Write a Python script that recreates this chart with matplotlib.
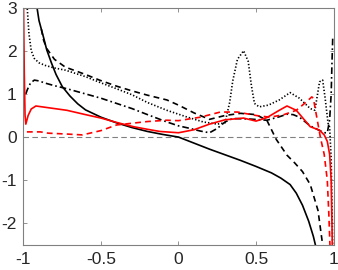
import matplotlib
matplotlib.use('Agg')
import matplotlib.pyplot as plt

AXIS = '#808080'
TEXT = '#262626'
RED = '#ff0000'

plt.rcParams['font.family'] = ['Liberation Sans', 'DejaVu Sans']
plt.rcParams['axes.unicode_minus'] = False

# ── curves ──
solid_x = [-0.915, -0.9, -0.87, -0.85, -0.82, -0.79, -0.75, -0.7, -0.65, -0.6, -0.5, -0.4, -0.3,
           -0.2, -0.1, 0.0, 0.1, 0.2, 0.3, 0.4, 0.5, 0.6, 0.66, 0.72, 0.76, 0.8, 0.84, 0.87, 0.89]
solid_y = [3.05, 2.7, 2.3, 2.02, 1.72, 1.45, 1.17, 0.95, 0.77, 0.63, 0.46, 0.33, 0.22,
           0.13, 0.06, 0.0, -0.14, -0.28, -0.41, -0.54, -0.68, -0.83, -0.95, -1.1, -1.3, -1.58, -1.95, -2.3, -2.6]

dashed_x = [-0.885, -0.87, -0.85, -0.8, -0.73, -0.6, -0.51, -0.4, -0.3, -0.2, -0.075, 0.0, 0.1,
            0.2, 0.3, 0.4, 0.5, 0.57, 0.63, 0.7, 0.75, 0.8, 0.85, 0.9, 0.93, 0.94]
dashed_y = [2.5, 2.24, 2.05, 1.8, 1.62, 1.45, 1.32, 1.18, 1.07, 0.97, 0.86, 0.74, 0.56,
            0.41, 0.5, 0.55, 0.52, 0.39, -0.05, -0.42, -0.6, -0.8, -1.1, -1.7, -2.5, -2.7]

dotted_x = [-0.977, -0.965, -0.95, -0.93, -0.9, -0.86, -0.8, -0.73, -0.6, -0.51, -0.4, -0.3, -0.2,
            -0.075, 0.05, 0.16, 0.25, 0.3, 0.33, 0.35, 0.38, 0.42, 0.45, 0.47, 0.49, 0.52, 0.58,
            0.65, 0.72, 0.78, 0.85, 0.88, 0.91, 0.93, 0.945, 0.965, 0.975, 0.985, 0.995]
dotted_y = [3.05, 2.4, 2.0, 1.82, 1.72, 1.66, 1.6, 1.55, 1.4, 1.27, 1.12, 0.98, 0.8,
            0.62, 0.47, 0.35, 0.3, 0.33, 0.8, 1.3, 1.8, 2.0, 1.75, 1.2, 0.78, 0.7, 0.74,
            0.86, 1.03, 0.9, 0.66, 0.62, 1.28, 1.32, 0.93, 0.32, 0.23, -0.5, -2.6]

dashdot_x = [-0.985, -0.975, -0.955, -0.93, -0.9, -0.86, -0.8, -0.72, -0.6, -0.5, -0.4, -0.3,
             -0.2, -0.075, 0.0, 0.075, 0.14, 0.2, 0.25, 0.3, 0.35, 0.45, 0.57, 0.65, 0.7, 0.74,
             0.78, 0.85, 0.9, 0.94, 0.96, 0.975, 0.985, 0.99, 0.995]
dashdot_y = [1.0, 1.1, 1.25, 1.32, 1.3, 1.25, 1.19, 1.12, 1.0, 0.9, 0.78, 0.66,
             0.52, 0.35, 0.26, 0.2, 0.14, 0.1, 0.2, 0.35, 0.43, 0.42, 0.39, 0.47, 0.53, 0.52,
             0.46, 0.26, 0.17, 0.1, 0.1, 0.4, 1.0, 1.7, 2.3]

red_solid_x = [-1.0, -0.995, -0.99, -0.985, -0.97, -0.95, -0.92, -0.88, -0.8, -0.72, -0.6, -0.5,
               -0.4, -0.29, -0.2, -0.12, 0.0, 0.1, 0.2, 0.3, 0.42, 0.5, 0.57, 0.65, 0.7, 0.76,
               0.8, 0.85, 0.91, 0.94, 0.96, 0.975, 0.985, 0.99, 0.993]
red_solid_y = [3.1, 1.5, 0.5, 0.3, 0.5, 0.65, 0.72, 0.7, 0.66, 0.62, 0.52, 0.44,
               0.34, 0.24, 0.18, 0.13, 0.1, 0.17, 0.3, 0.4, 0.44, 0.37, 0.45, 0.62, 0.72, 0.62,
               0.45, 0.24, 0.16, 0.05, -0.1, -0.4, -1.0, -2.0, -2.7]

red_dashed_x = [-0.978, -0.89, -0.84, -0.72, -0.62, -0.5, -0.4, -0.2, -0.075, 0.0, 0.14, 0.27,
                0.38, 0.5, 0.59, 0.68, 0.76, 0.82, 0.86, 0.87, 0.89, 0.915, 0.94, 0.96, 0.97, 0.978]
red_dashed_y = [0.12, 0.12, 0.09, 0.07, 0.05, 0.15, 0.28, 0.36, 0.39, 0.38, 0.46, 0.58,
                0.58, 0.5, 0.46, 0.52, 0.62, 0.8, 0.93, 0.9, 0.5, 0.0, -0.4, -1.0, -1.8, -2.6]

xticks = [-1, -0.5, 0, 0.5, 1]
xticklabels = ['-1', '-0.5', '0', '0.5', '1']
yticks = [-2, -1, 0, 1, 2, 3]

fig = plt.figure(figsize=(3.38, 2.70), dpi=100)
ax = fig.add_axes([0.0695, 0.0926, 0.9172, 0.8794])

ax.axhline(0, color='#808080', lw=0.8, linestyle=(0, (5, 3)), zorder=1)

lw = 1.2
ax.plot(solid_x, solid_y, color='black', lw=lw, solid_capstyle='butt')
ax.plot(dashed_x, dashed_y, color='black', lw=lw, linestyle=(0, (3.5, 2.5)))
ax.plot(dotted_x, dotted_y, color='black', lw=lw, linestyle=(0, (0.8, 1.2)))
ax.plot(dashdot_x, dashdot_y, color='black', lw=lw, linestyle=(0, (4, 1.8, 1, 1.8)))
ax.plot(red_solid_x, red_solid_y, color=RED, lw=lw)
ax.plot(red_dashed_x, red_dashed_y, color=RED, lw=lw, linestyle=(0, (3.5, 2.5)))

ax.set_xlim(-1, 1)
ax.set_ylim(-2.5, 3)
ax.set_xticks(xticks)
ax.set_xticklabels(xticklabels)
ax.set_yticks(yticks)

for s in ax.spines.values():
    s.set_color(AXIS)
    s.set_linewidth(0.8)
ax.tick_params(direction='in', length=3, width=0.6, color=AXIS, labelcolor=TEXT,
               labelsize=12.5, top=True, right=True, pad=5)

fig.savefig('out.png', dpi=100)
